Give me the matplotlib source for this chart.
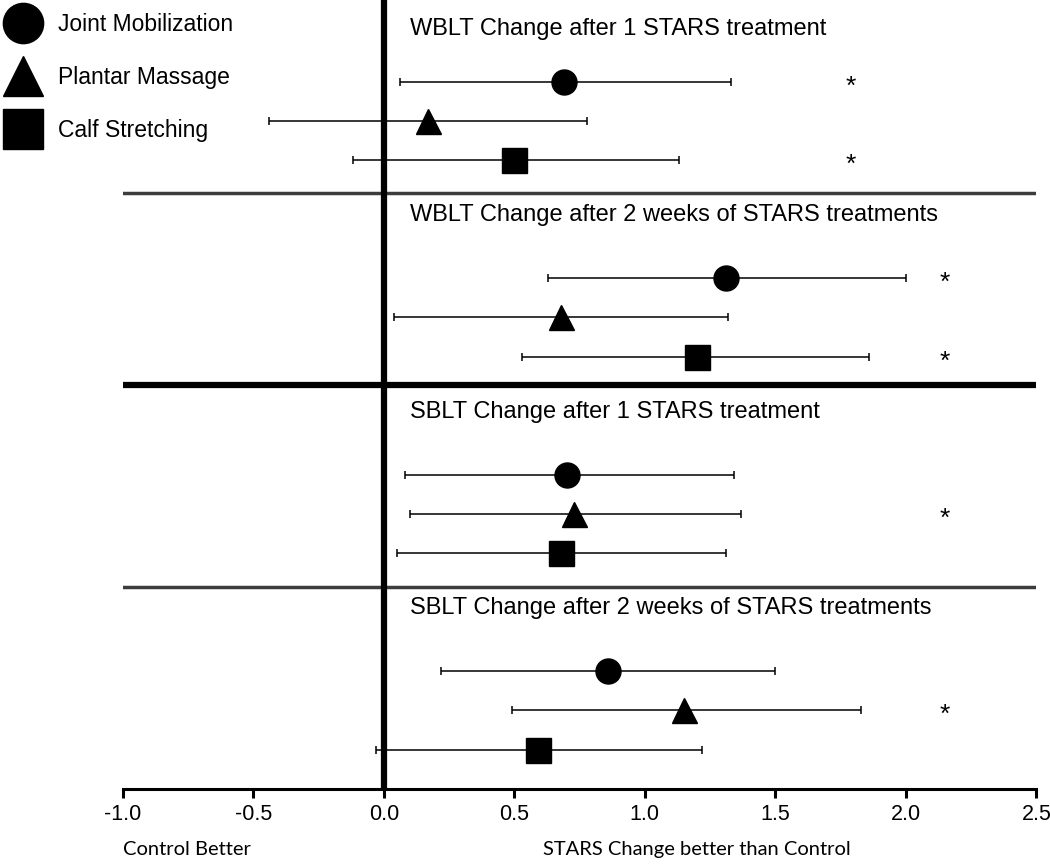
import matplotlib
matplotlib.use("Agg")
import matplotlib.pyplot as plt
from matplotlib.lines import Line2D

plt.rcParams['font.family'] = ['Liberation Sans', 'DejaVu Sans']

# data (mean difference and 95% CI vs control)
groups = ["WBLT Change after 1 STARS treatment",
          "WBLT Change after 2 weeks of STARS treatments",
          "SBLT Change after 1 STARS treatment",
          "SBLT Change after 2 weeks of STARS treatments"]
treatments = ["Joint Mobilization", "Plantar Massage", "Calf Stretching"]
markers = ['o', '^', 's']

means = [[0.69, 0.17, 0.50],
         [1.31, 0.68, 1.20],
         [0.70, 0.73, 0.68],
         [0.86, 1.15, 0.59]]
lower = [[0.06, -0.44, -0.12],
         [0.63, 0.04, 0.53],
         [0.08, 0.10, 0.05],
         [0.22, 0.49, -0.03]]
upper = [[1.33, 0.78, 1.13],
         [2.00, 1.32, 1.86],
         [1.34, 1.37, 1.31],
         [1.50, 1.83, 1.22]]
significant = [[True, False, True],
               [True, False, True],
               [False, True, False],
               [False, True, False]]
star_x = [1.79, 2.15, 2.15, 2.15]

xticks = [-1.0, -0.5, 0.0, 0.5, 1.0, 1.5, 2.0, 2.5]
title_y = [19.35, 14.62, 9.6, 4.6]

fig = plt.figure(figsize=(10.5, 8.64), dpi=100)
ax = fig.add_axes([0.117, 0.0868, 0.870, 0.9132])

n = len(groups)
for g in range(n):
    base = 1 + 5 * (n - 1 - g)
    for i in range(3):
        y = base + (2 - i)
        m = means[g][i]
        ax.errorbar(m, y, xerr=[[m - lower[g][i]], [upper[g][i] - m]],
                    fmt='none', ecolor='black', elinewidth=1.1,
                    capsize=2.6, capthick=1.1, zorder=2)
        ax.plot(m, y, marker=markers[i], color='black', markersize=18,
                linestyle='none', zorder=3)
        if significant[g][i]:
            ax.text(star_x[g], y - 0.12, '*', fontsize=19, ha='center', va='center')
    ax.text(0.1, title_y[g], groups[g], fontsize=17, ha='left', va='center')

# group separators
ax.axhline(15.17, color='#3c3c3c', lw=2.5, zorder=1)
ax.axhline(10.27, color='black', lw=4.5, zorder=1)
ax.axhline(5.14, color='#3c3c3c', lw=2.5, zorder=1)
ax.axvline(0, color='black', lw=4.5, zorder=1)

ax.set_xlim(-1.0, 2.5)
ax.set_ylim(0, 20.08)
ax.set_xticks(xticks)
ax.set_xticklabels([f"{t:.1f}" for t in xticks])
ax.set_yticks([])
for s in ['top', 'right', 'left']:
    ax.spines[s].set_visible(False)
ax.spines['bottom'].set_linewidth(2.2)
ax.tick_params(axis='x', direction='out', length=6.5, width=2.2, labelsize=15.5, pad=4)

ax.text(-0.755, -1.55, "Control Better", fontsize=14.5, ha='center', va='center',
        family=['Lato', 'DejaVu Sans'], clip_on=False)
ax.text(1.2, -1.55, "STARS Change better than Control", fontsize=14.5, ha='center',
        va='center', family=['Lato', 'DejaVu Sans'], clip_on=False)

handles = [Line2D([], [], marker=mk, color='black', linestyle='none', markersize=29)
           for mk in markers]
fig.legend(handles, treatments, loc='upper left', bbox_to_anchor=(0.0, 1.0),
           frameon=False, fontsize=16.5, handlelength=0.9, handletextpad=1.08,
           labelspacing=1.32, borderpad=0.55, borderaxespad=0.0)

fig.savefig("out.png", dpi=100)
